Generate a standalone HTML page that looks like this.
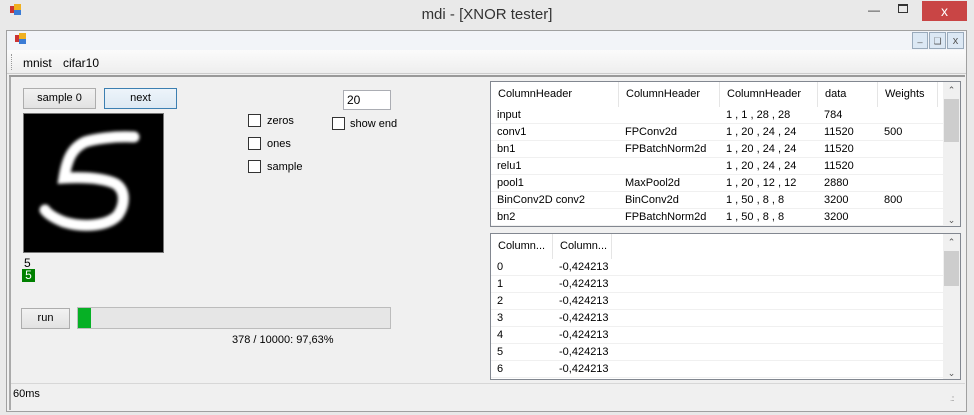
<!DOCTYPE html>
<html><head><meta charset="utf-8"><style>
*{margin:0;padding:0;box-sizing:border-box}
body{width:974px;height:415px;background:#e9e9e9;font-family:"Liberation Sans",sans-serif;font-size:11px;color:#000;position:relative;overflow:hidden}
.a{position:absolute}
.btn{position:absolute;background:linear-gradient(#f2f2f2,#e2e2e2);border:1px solid #adadad;text-align:center;line-height:19px;font-size:11px}
.cb{position:absolute;width:13px;height:13px;border:1px solid #333;background:#fff}
.lv{position:absolute;background:#fff;border:1px solid #828790;overflow:hidden}
.hd{position:absolute;top:0;height:25px;border-right:1px solid #e5e5e5;line-height:25px;padding-left:7px;background:#fff}
.row{position:absolute;left:0;height:17px;border-bottom:1px solid #f0f0f0;width:100%}
.c{position:absolute;line-height:17px;padding-left:6px;white-space:nowrap}
.sb{position:absolute;right:0;top:0;width:17px;bottom:0;background:#f0f0f0}
.th{position:absolute;left:1px;width:15px;background:#cdcdcd}
</style></head><body>
<!-- outer title -->
<div class="a" style="left:0;top:0;width:974px;height:30px;background:#e9e9e9"></div>
<div class="a" style="left:10px;top:6px;width:6px;height:7px;background:#c33"></div>
<div class="a" style="left:14px;top:4px;width:7px;height:6px;background:#f0b020"></div>
<div class="a" style="left:14px;top:10px;width:7px;height:5px;background:#3a7bd5"></div>
<div class="a" style="left:0;top:6px;width:974px;text-align:center;font-size:15px;color:#333">mdi - [XNOR tester]</div>
<div class="a" style="left:868px;top:3px;font-size:12px;color:#333">&#8212;</div>
<div class="a" style="left:898px;top:4px;width:10px;height:9px;border:1px solid #333;border-top-width:2px"></div>
<div class="a" style="left:922px;top:1px;width:45px;height:20px;background:#c94545;color:#fff;text-align:center;font-size:14px;line-height:20px">x</div>
<!-- child frame -->
<div class="a" style="left:6px;top:30px;width:961px;height:382px;border:1px solid #a0a0a0;background:#f0f0f0"></div>
<div class="a" style="left:7px;top:31px;width:959px;height:19px;background:#f2f4f8"></div>
<div class="a" style="left:15px;top:35px;width:6px;height:7px;background:#c33"></div>
<div class="a" style="left:19px;top:33px;width:7px;height:6px;background:#f0b020"></div>
<div class="a" style="left:19px;top:39px;width:7px;height:5px;background:#3a7bd5"></div>
<div class="a" style="left:912px;top:32px;width:16px;height:17px;border:1px solid #9ab;background:#dce8f4;font-size:9px;text-align:center;color:#555">_</div>
<div class="a" style="left:929px;top:32px;width:17px;height:17px;border:1px solid #9ab;background:#dce8f4;font-size:9px;text-align:center;color:#555;line-height:16px">&#10063;</div>
<div class="a" style="left:947px;top:32px;width:17px;height:17px;border:1px solid #9ab;background:#dce8f4;font-size:11px;text-align:center;color:#555;line-height:16px">x</div>
<div class="a" style="left:7px;top:50px;width:959px;height:24px;background:linear-gradient(#fbfbfb,#eeeeee);border-bottom:1px solid #ccc"></div>
<div class="a" style="left:11px;top:54px;width:1px;height:16px;border-left:1px dotted #999"></div>
<div class="a" style="left:23px;top:56px;font-size:12px">mnist</div>
<div class="a" style="left:63px;top:56px;font-size:12px">cifar10</div>
<div class="a" style="left:9px;top:75px;width:956px;height:2px;background:#999"></div>
<div class="a" style="left:9px;top:77px;width:2px;height:333px;background:#aaa"></div>
<!-- left controls -->
<div class="btn" style="left:23px;top:88px;width:73px;height:21px">sample 0</div>
<div class="btn" style="left:104px;top:88px;width:73px;height:21px;border-color:#3c7fb1;background:linear-gradient(#edf4fa,#dde9f3)">next</div>
<div class="a" style="left:23px;top:113px;width:141px;height:140px;border:1px solid #777;background:#000">
<svg width="139" height="138" style="position:absolute;left:0;top:0"><defs><filter id="b"><feGaussianBlur stdDeviation="1.6"/></filter></defs>
<path d="M110,23 C90,22 70,25 61,28 C48,34 43,45 40,64 C60,63 80,64 92,70 C103,78 100,92 94,101 C84,112 60,114 40,108 C30,104 24,100 21,96" fill="none" stroke="#fff" stroke-width="11" stroke-linecap="round" filter="url(#b)"/></svg></div>
<div class="a" style="left:24px;top:256px;font-size:12px">5</div>
<div class="a" style="left:22px;top:269px;width:13px;height:13px;background:#008000;color:#fff;font-size:12px;text-align:center;line-height:13px">5</div>
<div class="cb" style="left:248px;top:114px"></div><div class="a" style="left:267px;top:115px">zeros</div>
<div class="cb" style="left:248px;top:137px"></div><div class="a" style="left:267px;top:138px">ones</div>
<div class="cb" style="left:248px;top:160px"></div><div class="a" style="left:267px;top:161px">sample</div>
<div class="a" style="left:343px;top:90px;width:48px;height:20px;border:1px solid #abadb3;background:#fff;padding-left:3px;line-height:18px;font-size:12px">20</div>
<div class="cb" style="left:332px;top:117px"></div><div class="a" style="left:350px;top:118px">show end</div>
<div class="btn" style="left:21px;top:308px;width:49px;height:21px">run</div>
<div class="a" style="left:77px;top:307px;width:314px;height:22px;border:1px solid #bcbcbc;background:#e6e6e6"><div style="position:absolute;left:0;top:0;width:13px;height:20px;background:#06b025"></div></div>
<div class="a" style="left:232px;top:334px;font-size:11px">378 / 10000: 97,63%</div>
<!-- top list -->
<div class="lv" style="left:490px;top:81px;width:471px;height:146px">
<div class="hd" style="left:0;width:128px">ColumnHeader</div>
<div class="hd" style="left:128px;width:101px">ColumnHeader</div>
<div class="hd" style="left:229px;width:98px">ColumnHeader</div>
<div class="hd" style="left:327px;width:60px">data</div>
<div class="hd" style="left:387px;width:60px">Weights</div>
<div style="position:absolute;top:25px;left:0;width:453px">
<div class="row" style="top:0"><span class="c" style="left:0">input</span><span class="c" style="left:229px">1 , 1 , 28 , 28</span><span class="c" style="left:327px">784</span></div>
<div class="row" style="top:17px"><span class="c" style="left:0">conv1</span><span class="c" style="left:128px">FPConv2d</span><span class="c" style="left:229px">1 , 20 , 24 , 24</span><span class="c" style="left:327px">11520</span><span class="c" style="left:387px">500</span></div>
<div class="row" style="top:34px"><span class="c" style="left:0">bn1</span><span class="c" style="left:128px">FPBatchNorm2d</span><span class="c" style="left:229px">1 , 20 , 24 , 24</span><span class="c" style="left:327px">11520</span></div>
<div class="row" style="top:51px"><span class="c" style="left:0">relu1</span><span class="c" style="left:229px">1 , 20 , 24 , 24</span><span class="c" style="left:327px">11520</span></div>
<div class="row" style="top:68px"><span class="c" style="left:0">pool1</span><span class="c" style="left:128px">MaxPool2d</span><span class="c" style="left:229px">1 , 20 , 12 , 12</span><span class="c" style="left:327px">2880</span></div>
<div class="row" style="top:85px"><span class="c" style="left:0">BinConv2D conv2</span><span class="c" style="left:128px">BinConv2d</span><span class="c" style="left:229px">1 , 50 , 8 , 8</span><span class="c" style="left:327px">3200</span><span class="c" style="left:387px">800</span></div>
<div class="row" style="top:102px"><span class="c" style="left:0">bn2</span><span class="c" style="left:128px">FPBatchNorm2d</span><span class="c" style="left:229px">1 , 50 , 8 , 8</span><span class="c" style="left:327px">3200</span></div>
</div>
<div class="sb"><div style="text-align:center;font-size:9px;color:#555;line-height:17px">&#8963;</div><div class="th" style="top:17px;height:43px"></div><div style="position:absolute;bottom:0;width:17px;text-align:center;font-size:9px;color:#555">&#8964;</div></div>
</div>
<!-- bottom list -->
<div class="lv" style="left:490px;top:233px;width:471px;height:147px">
<div class="hd" style="left:0;width:62px">Column...</div>
<div class="hd" style="left:62px;width:59px">Column...</div>
<div style="position:absolute;top:25px;left:0;width:453px">
<div class="row" style="top:0"><span class="c" style="left:0">0</span><span class="c" style="left:62px">-0,424213</span></div>
<div class="row" style="top:17px"><span class="c" style="left:0">1</span><span class="c" style="left:62px">-0,424213</span></div>
<div class="row" style="top:34px"><span class="c" style="left:0">2</span><span class="c" style="left:62px">-0,424213</span></div>
<div class="row" style="top:51px"><span class="c" style="left:0">3</span><span class="c" style="left:62px">-0,424213</span></div>
<div class="row" style="top:68px"><span class="c" style="left:0">4</span><span class="c" style="left:62px">-0,424213</span></div>
<div class="row" style="top:85px"><span class="c" style="left:0">5</span><span class="c" style="left:62px">-0,424213</span></div>
<div class="row" style="top:102px"><span class="c" style="left:0">6</span><span class="c" style="left:62px">-0,424213</span></div>
</div>
<div class="sb"><div style="text-align:center;font-size:9px;color:#555;line-height:17px">&#8963;</div><div class="th" style="top:17px;height:35px"></div><div style="position:absolute;bottom:0;width:17px;text-align:center;font-size:9px;color:#555">&#8964;</div></div>
</div>
<!-- status -->
<div class="a" style="left:11px;top:383px;width:954px;height:1px;background:#d7d7d7"></div>
<div class="a" style="left:13px;top:388px;font-size:11px">60ms</div>
<div class="a" style="left:950px;top:394px;font-size:8px;color:#999;letter-spacing:-1px">.::</div>
</body></html>
